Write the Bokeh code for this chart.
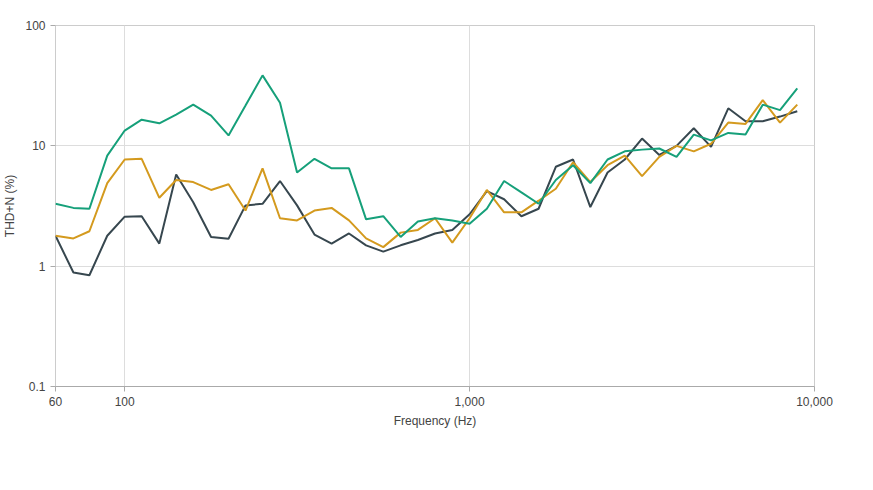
from bokeh.plotting import figure
from bokeh.models import Legend, FixedTicker
from bokeh.embed import file_html
from bokeh.resources import INLINE

freq = [63,71,79,89,100,112,126,141,158,178,200,224,251,282,316,355,398,447,501,562,631,708,794,891,1000,1122,1259,1413,1585,1778,1995,2239,2512,2818,3162,3548,3981,4467,5012,5623,6310,7079,7943,8913]
nominal = [1.79,0.885,0.84,1.79,2.58,2.6,1.54,5.77,3.4,1.75,1.69,3.2,3.3,5.1,3.2,1.83,1.54,1.87,1.49,1.32,1.49,1.65,1.87,2.0,2.7,4.2,3.6,2.6,3.0,6.7,7.7,3.1,6.0,7.7,11.5,8.4,10,14,9.8,20.5,16,16,17.5,19.4]
loud = [1.79,1.7,1.95,4.9,7.7,7.8,3.7,5.2,5.0,4.3,4.8,2.9,6.5,2.5,2.4,2.9,3.05,2.4,1.7,1.44,1.9,2.0,2.5,1.57,2.5,4.3,2.8,2.8,3.5,4.4,7.3,5.0,6.9,8.3,5.6,8.1,10,9.0,10.4,15.6,15.2,24,15.6,22]
maximum = [3.3,3.05,3.0,8.3,13.4,16.5,15.4,18.2,22,17.8,12.2,21.6,38.5,22.8,6.0,7.8,6.5,6.5,2.45,2.6,1.75,2.35,2.5,2.4,2.25,3.0,5.1,4.1,3.3,5.2,6.9,4.9,7.7,9.0,9.3,9.5,8.1,12.4,11.1,12.8,12.4,22,19.8,30]
series = [("Nominal", nominal, "#37474f"), ("Loud", loud, "#d49a1e"), ("Maximum", maximum, "#16a07a")]

p = figure(frame_width=759, frame_height=361, x_axis_type="log", y_axis_type="log",
           x_range=(63, 10000), y_range=(0.1, 100), output_backend="svg",
           toolbar_location=None, min_border_left=51, min_border_right=47, min_border_top=25,
           min_border_bottom=10)
p.outline_line_color = "#cccccc"
items = []
for name, vals, col in series:
    r = p.line(freq, vals, line_color=col, line_width=2)
    items.append((name, [r]))

p.xaxis.ticker = FixedTicker(ticks=[63, 100, 1000, 10000], minor_ticks=[])
p.xaxis.major_label_overrides = {63: "60", 100: "100", 1000: "1,000", 10000: "10,000"}
p.yaxis.ticker = FixedTicker(ticks=[0.1, 1, 10, 100], minor_ticks=[])
p.yaxis.major_label_overrides = {0.1: "0.1", 1: "1", 10: "10", 100: "100"}
p.xaxis.axis_label = "Frequency (Hz)"
p.yaxis.axis_label = "THD+N (%)"
for ax in (p.xaxis, p.yaxis):
    ax.axis_label_text_font_style = "normal"
    ax.axis_label_text_font_size = "12px"
    ax.major_label_text_font_size = "12px"
    ax.axis_label_text_color = "#444444"
    ax.major_label_text_color = "#444444"
    ax.axis_line_color = "#aaaaaa"
    ax.major_tick_line_color = "#aaaaaa"
    ax.major_tick_in = 0
    ax.major_tick_out = 5
p.yaxis.axis_line_color = None
p.grid.grid_line_color = "#dddddd"
p.xgrid.ticker = FixedTicker(ticks=[100, 1000, 10000])

leg = Legend(items=items, orientation="horizontal", location="center",
             label_text_font_size="12px", label_text_color="#444444",
             border_line_color=None, padding=0, margin=2, spacing=20, glyph_width=22,
             label_height=14, glyph_height=14)
p.add_layout(leg, "below")

open("out.html", "w").write(file_html(p, INLINE))
